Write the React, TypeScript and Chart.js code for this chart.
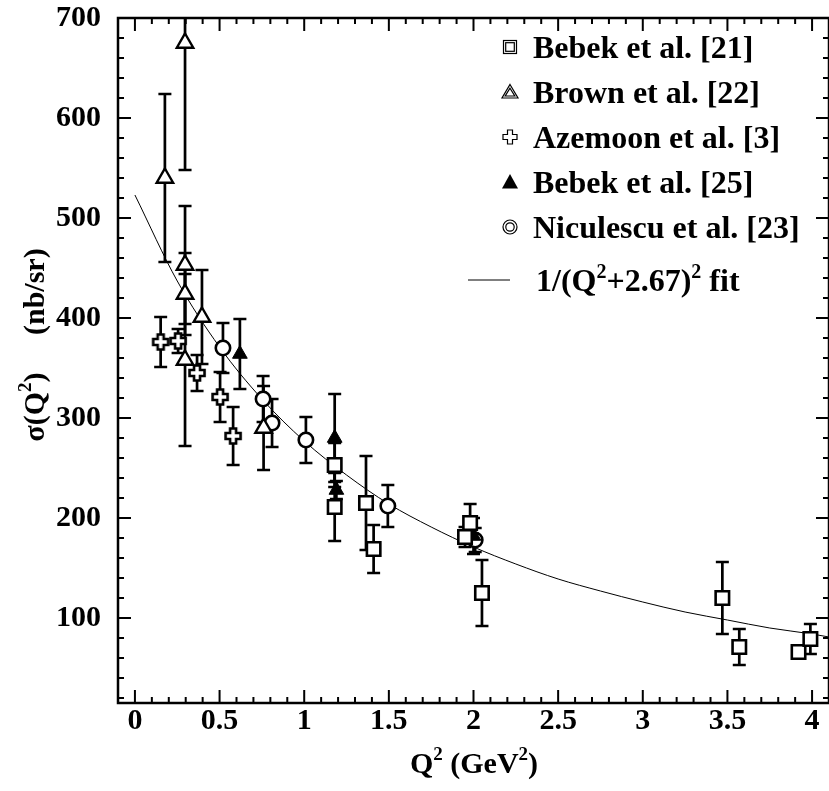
import { useEffect, useRef } from 'react';
import { Chart, registerables } from 'chart.js';
Chart.register(...registerables);

// ---- data ----
const bebek21Q2 = [1.18, 1.18, 1.365, 1.41, 1.95, 1.98, 2.05, 3.47, 3.57, 3.92, 3.99];
const bebek21Sig = [253, 211, 215, 169, 181, 195, 125, 120, 71, 66, 79];
const bebek21Err = [22, 34, 47, 24, 10, 19, 33, 36, 18, 4, 15];

const brownQ2 = [0.177, 0.296, 0.296, 0.296, 0.296, 0.396, 0.76];
const brownSig = [540, 675, 453, 424, 358, 401, 290];
const brownErr = [84, 127, 59, 41, 86, 47, 42];

const azemoonQ2 = [0.152, 0.255, 0.367, 0.503, 0.58];
const azemoonSig = [376, 377, 345, 321, 282];
const azemoonErr = [25, 12, 18, 25, 29];

const bebek25Q2 = [0.62, 1.18, 1.19, 2.0];
const bebek25Sig = [364, 280, 228, 182];
const bebek25Err = [35, 44, 9, 18];

const niculescuQ2 = [0.52, 0.757, 0.81, 1.01, 1.494, 2.01];
const niculescuSig = [370, 319, 295, 278, 212, 178];
const niculescuErr = [25, 23, 24, 23, 21, 12];

const fitQ2 = [0, 0.25, 0.5, 0.75, 1, 1.25, 1.5, 1.75, 2, 2.25, 2.5, 2.75, 3, 3.25, 3.5, 3.75, 4, 4.1];
const fitSig = [523, 437, 371, 319, 277, 243, 214, 191, 171, 154, 139, 127, 116, 106, 98, 90, 84, 81];

const xTickValues = [0, 0.5, 1, 1.5, 2, 2.5, 3, 3.5, 4];
const xTickLabels = ['0', '0.5', '1', '1.5', '2', '2.5', '3', '3.5', '4'];
const yTickValues = [100, 200, 300, 400, 500, 600, 700];
const yTickLabels = ['100', '200', '300', '400', '500', '600', '700'];

const legendLabels = ['Bebek et al. [21]', 'Brown et al. [22]', 'Azemoon et al. [3]', 'Bebek et al. [25]', 'Niculescu et al. [23]'];

const FONT = "'Liberation Serif', 'Times New Roman', serif";

type Part = [string, boolean];

function drawRich(ctx: CanvasRenderingContext2D, parts: Part[], x: number, y: number, size: number, align: 'left' | 'center') {
  const supSize = Math.round(size * 0.62);
  const widths = parts.map(([t, sup]) => {
    ctx.font = `bold ${sup ? supSize : size}px ${FONT}`;
    return ctx.measureText(t).width;
  });
  const total = widths.reduce((a, b) => a + b, 0);
  let cx = align === 'center' ? x - total / 2 : x;
  ctx.textAlign = 'left';
  ctx.textBaseline = 'alphabetic';
  parts.forEach(([t, sup], i) => {
    ctx.font = `bold ${sup ? supSize : size}px ${FONT}`;
    ctx.fillText(t, cx, sup ? y - size * 0.42 : y);
    cx += widths[i];
  });
}

function makeCross(): HTMLCanvasElement {
  const c = document.createElement('canvas');
  c.width = 20;
  c.height = 20;
  const g = c.getContext('2d')!;
  const m = 10, a = 7.5, b = 3;
  g.beginPath();
  g.moveTo(m - b, m - a);
  g.lineTo(m + b, m - a);
  g.lineTo(m + b, m - b);
  g.lineTo(m + a, m - b);
  g.lineTo(m + a, m + b);
  g.lineTo(m + b, m + b);
  g.lineTo(m + b, m + a);
  g.lineTo(m - b, m + a);
  g.lineTo(m - b, m + b);
  g.lineTo(m - a, m + b);
  g.lineTo(m - a, m - b);
  g.lineTo(m - b, m - b);
  g.closePath();
  g.fillStyle = '#fff';
  g.fill();
  g.lineWidth = 2.6;
  g.strokeStyle = '#000';
  g.stroke();
  return c;
}

const errorSets = [bebek21Err, brownErr, azemoonErr, bebek25Err, niculescuErr];

const errorBarPlugin = {
  id: 'errorBars',
  beforeDatasetsDraw(chart: any) {
    const ctx = chart.ctx as CanvasRenderingContext2D;
    const ys = chart.scales.y;
    const area = chart.chartArea;
    ctx.save();
    ctx.beginPath();
    ctx.rect(area.left, area.top, area.right - area.left, area.bottom - area.top);
    ctx.clip();
    ctx.strokeStyle = '#000';
    ctx.lineWidth = 2.7;
    errorSets.forEach((errs, di) => {
      const meta = chart.getDatasetMeta(di);
      const ds = chart.data.datasets[di];
      meta.data.forEach((pt: any, i: number) => {
        const v = ds.data[i].y;
        const e = errs[i];
        const y1 = ys.getPixelForValue(v + e);
        const y2 = ys.getPixelForValue(v - e);
        const x = pt.x;
        ctx.beginPath();
        ctx.moveTo(x, y1);
        ctx.lineTo(x, y2);
        ctx.moveTo(x - 6.5, y1);
        ctx.lineTo(x + 6.5, y1);
        ctx.moveTo(x - 6.5, y2);
        ctx.lineTo(x + 6.5, y2);
        ctx.stroke();
      });
    });
    ctx.restore();
  },
};

const framePlugin = {
  id: 'frameTicks',
  afterDraw(chart: any) {
    const ctx = chart.ctx as CanvasRenderingContext2D;
    const { left, right, top, bottom } = chart.chartArea;
    const xs = chart.scales.x;
    const ys = chart.scales.y;
    ctx.save();
    ctx.strokeStyle = '#000';
    ctx.lineWidth = 2.5;
    ctx.strokeRect(left, top, right - left, bottom - top);
    ctx.lineWidth = 2;
    for (let i = 0; i <= 40; i++) {
      const px = xs.getPixelForValue(i / 10);
      const len = i % 5 === 0 ? 13 : 6;
      ctx.beginPath();
      ctx.moveTo(px, bottom);
      ctx.lineTo(px, bottom - len);
      ctx.moveTo(px, top);
      ctx.lineTo(px, top + len);
      ctx.stroke();
    }
    for (let i = 1; i <= 35; i++) {
      const v = i * 20;
      const py = ys.getPixelForValue(v);
      const len = v % 100 === 0 ? 13 : 6;
      ctx.beginPath();
      ctx.moveTo(left, py);
      ctx.lineTo(left + len, py);
      ctx.moveTo(right, py);
      ctx.lineTo(right - len, py);
      ctx.stroke();
    }

    // axis titles
    ctx.fillStyle = '#000';
    drawRich(ctx, [['Q', false], ['2', true], [' (GeV', false], ['2', true], [')', false]], 474, 773, 30, 'center');
    ctx.save();
    ctx.translate(44, 345);
    ctx.rotate(-Math.PI / 2);
    drawRich(ctx, [['σ(Q', false], ['2', true], [')     (nb/sr)', false]], 0, 0, 30, 'center');
    ctx.restore();

    // legend
    const sx = 510;
    const rows = [47, 92, 137, 182, 227];
    ctx.lineWidth = 1.2;
    rows.forEach((cy, i) => {
      ctx.beginPath();
      if (i === 0) {
        ctx.strokeRect(sx - 6.5, cy - 6.5, 13, 13);
        ctx.strokeRect(sx - 4.3, cy - 4.3, 8.6, 8.6);
      } else if (i === 1) {
        ctx.moveTo(sx, cy - 7.5); ctx.lineTo(sx + 8, cy + 6); ctx.lineTo(sx - 8, cy + 6); ctx.closePath();
        ctx.moveTo(sx, cy - 3.8); ctx.lineTo(sx + 4.8, cy + 4); ctx.lineTo(sx - 4.8, cy + 4); ctx.closePath();
        ctx.stroke();
      } else if (i === 2) {
        const a = 7, b = 2.5;
        ctx.moveTo(sx - b, cy - a); ctx.lineTo(sx + b, cy - a); ctx.lineTo(sx + b, cy - b); ctx.lineTo(sx + a, cy - b);
        ctx.lineTo(sx + a, cy + b); ctx.lineTo(sx + b, cy + b); ctx.lineTo(sx + b, cy + a); ctx.lineTo(sx - b, cy + a);
        ctx.lineTo(sx - b, cy + b); ctx.lineTo(sx - a, cy + b); ctx.lineTo(sx - a, cy - b); ctx.lineTo(sx - b, cy - b);
        ctx.closePath();
        ctx.stroke();
      } else if (i === 3) {
        ctx.moveTo(sx, cy - 8); ctx.lineTo(sx + 8, cy + 6.5); ctx.lineTo(sx - 8, cy + 6.5); ctx.closePath();
        ctx.fillStyle = '#000';
        ctx.fill();
      } else {
        ctx.arc(sx, cy, 7, 0, Math.PI * 2);
        ctx.moveTo(sx + 4.2, cy);
        ctx.arc(sx, cy, 4.2, 0, Math.PI * 2);
        ctx.stroke();
      }
      ctx.fillStyle = '#000';
      ctx.font = `bold 32px ${FONT}`;
      ctx.textAlign = 'left';
      ctx.textBaseline = 'alphabetic';
      ctx.fillText(legendLabels[i], 533, cy + 11);
    });
    ctx.lineWidth = 1;
    ctx.beginPath();
    ctx.moveTo(468, 280);
    ctx.lineTo(510, 280);
    ctx.stroke();
    drawRich(ctx, [['1/(Q', false], ['2', true], ['+2.67)', false], ['2', true], [' fit', false]], 536, 291, 32, 'left');
    ctx.restore();
  },
};

function pts(xs: number[], ys: number[]) {
  return xs.map((x, i) => ({ x, y: ys[i] }));
}

export default function App() {
  const ref = useRef<HTMLCanvasElement>(null);
  useEffect(() => {
    document.body.style.margin = '0';
    const cross = makeCross();
    const tickFont = { family: FONT, size: 30, weight: 'bold' as const };
    const chart = new Chart(ref.current!, {
      type: 'scatter',
      data: {
        datasets: [
          { label: legendLabels[0], data: pts(bebek21Q2, bebek21Sig), pointStyle: 'rect', pointRadius: 9.5, borderWidth: 2.6, borderColor: '#000', backgroundColor: '#fff' },
          { label: legendLabels[1], data: pts(brownQ2, brownSig), pointStyle: 'triangle', pointRadius: 9.5, borderWidth: 2.4, borderColor: '#000', backgroundColor: '#fff' },
          { label: legendLabels[2], data: pts(azemoonQ2, azemoonSig), pointStyle: cross as any, pointRadius: 9, borderWidth: 0, borderColor: '#000', backgroundColor: '#fff' },
          { label: legendLabels[3], data: pts(bebek25Q2, bebek25Sig), pointStyle: 'triangle', pointRadius: 8.5, borderWidth: 1, borderColor: '#000', backgroundColor: '#000' },
          { label: legendLabels[4], data: pts(niculescuQ2, niculescuSig), pointStyle: 'circle', pointRadius: 7.2, borderWidth: 2.6, borderColor: '#000', backgroundColor: '#fff' },
          { type: 'line', label: 'fit', data: pts(fitQ2, fitSig), showLine: true, pointRadius: 0, borderWidth: 1, borderColor: '#000', cubicInterpolationMode: 'monotone', fill: false } as any,
        ],
      },
      options: {
        animation: false,
        responsive: false,
        events: [],
        layout: { autoPadding: false, padding: { top: 18, left: 0, right: 0, bottom: 0 } },
        plugins: { legend: { display: false }, tooltip: { enabled: false } },
        scales: {
          x: {
            type: 'linear',
            min: -0.1,
            max: 4.1,
            grid: { display: false, drawTicks: false },
            border: { display: false },
            ticks: { font: tickFont, color: '#000', padding: 0, maxRotation: 0, callback: (_v: any, i: number) => xTickLabels[i] },
            afterBuildTicks: (s: any) => { s.ticks = xTickValues.map((v) => ({ value: v })); },
            afterFit: (s: any) => { s.height = 88; s.paddingLeft = 0; s.paddingRight = 0; },
          },
          y: {
            type: 'linear',
            min: 15,
            max: 700,
            grid: { display: false, drawTicks: false },
            border: { display: false },
            ticks: { font: tickFont, color: '#000', padding: 17, callback: (_v: any, i: number) => yTickLabels[i] },
            afterBuildTicks: (s: any) => { s.ticks = yTickValues.map((v) => ({ value: v })); },
            afterFit: (s: any) => { s.width = 118; s.paddingTop = 0; s.paddingBottom = 0; },
          },
        },
      },
      plugins: [errorBarPlugin, framePlugin],
    });
    return () => chart.destroy();
  }, []);
  return (
    <div style={{ width: 829, height: 791, background: '#fff' }}>
      <canvas ref={ref} width={829} height={791} style={{ display: 'block' }} />
    </div>
  );
}
